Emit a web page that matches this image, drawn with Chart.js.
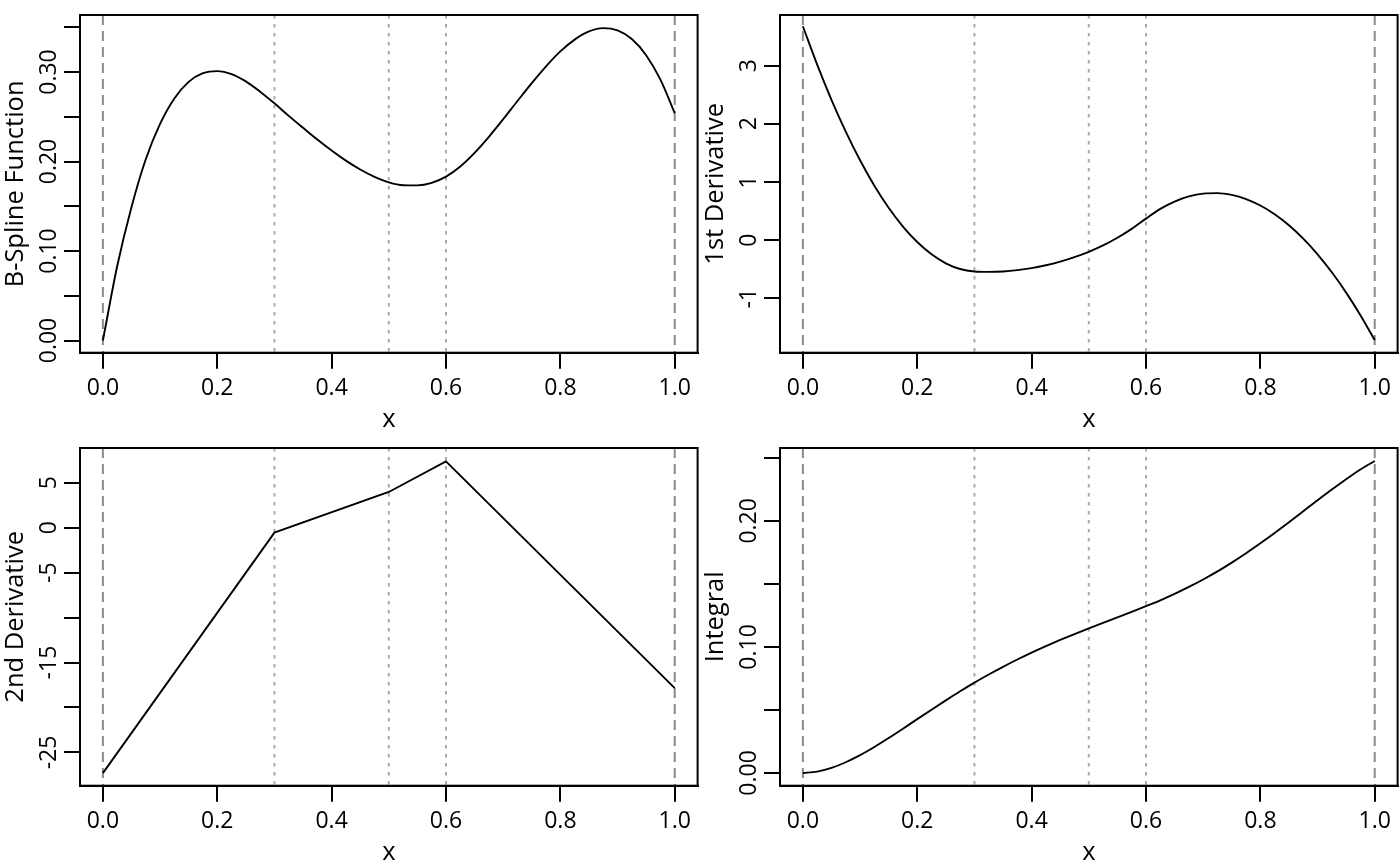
<!DOCTYPE html>
<html>
<head>
<meta charset="utf-8">
<script src="https://cdn.jsdelivr.net/npm/chart.js@4.4.1/dist/chart.umd.min.js"></script>
<style>
html,body{margin:0;padding:0;background:#fff;}
#wrap{position:relative;width:1400px;height:866px;overflow:hidden;background:#fff;}
canvas{position:absolute;}
</style>
</head>
<body>
<div id="wrap">
<canvas id="c1" width="700" height="433" style="left:0px;top:0px"></canvas>
<canvas id="c2" width="700" height="433" style="left:700px;top:0px"></canvas>
<canvas id="c3" width="700" height="433" style="left:0px;top:433px"></canvas>
<canvas id="c4" width="700" height="433" style="left:700px;top:433px"></canvas>
</div>
<script>
// ---------- data ----------
const boundaryKnots = [0, 1];
const internalKnots = [0.3, 0.5, 0.6];

const xTicks = [0, 0.2, 0.4, 0.6, 0.8, 1.0];
const xTickLabels = ['0.0', '0.2', '0.4', '0.6', '0.8', '1.0'];

// x positions at which the smooth curves were read
const xGrid = [0,0.025,0.05,0.075,0.1,0.125,0.15,0.175,0.2,0.225,0.25,0.275,0.3,0.325,0.35,0.375,0.4,0.425,0.45,0.475,0.5,
               0.525,0.55,0.575,0.6,0.625,0.65,0.675,0.7,0.725,0.75,0.775,0.8,0.825,0.85,0.875,0.9,0.925,0.95,0.975,1];

// B-spline function
const yBasis = [0,0.083,0.149,0.2025,0.242,0.2705,0.289,0.2987,0.301,0.2977,0.2895,0.278,0.265,0.2510,0.2377,0.2246,0.2123,0.2010,0.1911,0.1829,0.1767,
                0.1735,0.1733,0.1761,0.1831,0.1945,0.2097,0.2276,0.2472,0.2676,0.2876,0.3064,0.323,0.3362,0.3453,0.349,0.3465,0.3368,0.3188,0.2915,0.254];
const basisTicks = [0,0.05,0.1,0.15,0.2,0.25,0.3,0.35];
const basisTickLabels = ['0.00','','0.10','','0.20','','0.30',''];

// 1st derivative
const yDeriv1 = [3.677,3.016,2.412,1.864,1.372,0.936,0.557,0.234,-0.033,-0.244,-0.398,-0.496,-0.538,-0.545,-0.538,-0.516,-0.481,-0.432,-0.369,-0.291,-0.200,
                 -0.091,0.041,0.194,0.370,0.537,0.664,0.752,0.800,0.808,0.777,0.706,0.595,0.445,0.255,0.025,-0.244,-0.553,-0.902,-1.290,-1.718];
const deriv1Ticks = [-1,0,1,2,3];
const deriv1TickLabels = ['-1','0','1','2','3'];

// 2nd derivative (piecewise linear, read at the knots)
const xDeriv2 = [0,0.3,0.5,0.6,1];
const yDeriv2 = [-27.3,-0.55,3.97,7.37,-17.84];
const deriv2Ticks = [-25,-20,-15,-10,-5,0,5];
const deriv2TickLabels = ['-25','','-15','','-5','0','5'];

// Integral
const yIntegral = [0,0.0011,0.0040,0.0085,0.0141,0.0206,0.0277,0.0351,0.0427,0.0502,0.0576,0.0648,0.0717,0.0781,0.0842,0.0900,0.0955,0.1006,0.1055,0.1102,0.1147,
                   0.1191,0.1234,0.1278,0.1323,0.1370,0.1421,0.1476,0.1535,0.1599,0.1669,0.1743,0.1822,0.1904,0.1989,0.2076,0.2163,0.2248,0.2330,0.2407,0.2475];
const integralTicks = [0,0.05,0.1,0.15,0.2,0.25];
const integralTickLabels = ['0.00','','0.10','','0.20',''];

// ---------- drawing ----------
const FONT = '"Open Sans", "Noto Sans", sans-serif';
const TICK_FONT = '23px ' + FONT;
const TITLE_FONT = '25.5px ' + FONT;

function rStylePlugin(yTicks, yLabels, yTitle) {
  return {
    id: 'rstyle',
    beforeDatasetsDraw(chart) {
      const ctx = chart.ctx, a = chart.chartArea, xs = chart.scales.x;
      ctx.save();
      ctx.beginPath();
      ctx.rect(a.left, a.top, a.right - a.left, a.bottom - a.top);
      ctx.clip();
      ctx.lineWidth = 2;
      ctx.lineCap = 'butt';
      ctx.strokeStyle = '#8a8a8a';
      ctx.setLineDash([10, 6]);
      boundaryKnots.forEach(k => {
        const px = xs.getPixelForValue(k);
        ctx.beginPath(); ctx.moveTo(px, a.top); ctx.lineTo(px, a.bottom); ctx.stroke();
      });
      ctx.strokeStyle = '#ababab';
      ctx.setLineDash([3.5, 5.5]);
      internalKnots.forEach(k => {
        const px = xs.getPixelForValue(k);
        ctx.beginPath(); ctx.moveTo(px, a.top); ctx.lineTo(px, a.bottom); ctx.stroke();
      });
      ctx.restore();
    },
    afterDraw(chart) {
      const ctx = chart.ctx, a = chart.chartArea, xs = chart.scales.x, ys = chart.scales.y;
      ctx.save();
      ctx.strokeStyle = '#000';
      ctx.lineWidth = 2;
      ctx.setLineDash([]);
      ctx.strokeRect(a.left, a.top, a.right - a.left, a.bottom - a.top);
      ctx.fillStyle = '#000';
      ctx.font = TICK_FONT;
      ctx.textAlign = 'center';
      ctx.textBaseline = 'alphabetic';
      xTicks.forEach((v, i) => {
        if (!xTickLabels[i]) return;
        ctx.fillText(xTickLabels[i], xs.getPixelForValue(v), a.bottom + 42.5);
      });
      yTicks.forEach((v, i) => {
        if (!yLabels[i]) return;
        ctx.save();
        ctx.translate(a.left - 24, ys.getPixelForValue(v));
        ctx.rotate(-Math.PI / 2);
        ctx.fillText(yLabels[i], 0, 0);
        ctx.restore();
      });
      ctx.font = TITLE_FONT;
      ctx.fillText('x', (a.left + a.right) / 2, a.bottom + 74.5);
      ctx.save();
      ctx.translate(a.left - 57.3, (a.top + a.bottom) / 2);
      ctx.rotate(-Math.PI / 2);
      ctx.fillText(yTitle, 0, 0);
      ctx.restore();
      ctx.restore();
    }
  };
}

function makePanel(id, xs, ys, yMin, yMax, yTicks, yLabels, yTitle, smooth) {
  const pts = xs.map((x, i) => ({x: x, y: ys[i]}));
  const axisCommon = {
    type: 'linear',
    grid: {drawOnChartArea: false, drawTicks: true, tickLength: 16, tickWidth: 2, tickColor: '#000', color: '#000', lineWidth: 2},
    border: {display: true, color: '#000', width: 2},
    ticks: {display: false, autoSkip: false}
  };
  new Chart(document.getElementById(id), {
    type: 'line',
    data: {datasets: [{
      data: pts,
      borderColor: '#000',
      borderWidth: 1.9,
      pointRadius: 0,
      fill: false,
      tension: smooth ? 0.4 : 0,
      cubicInterpolationMode: smooth ? 'monotone' : 'default'
    }]},
    options: {
      responsive: false,
      animation: false,
      events: [],
      layout: {padding: {left: 64, top: 15, right: 2.4, bottom: 64.3}},
      plugins: {legend: {display: false}, tooltip: {enabled: false}, title: {display: false}},
      scales: {
        x: Object.assign({}, axisCommon, {
          position: 'bottom', min: -0.04, max: 1.04,
          afterBuildTicks: s => { s.ticks = xTicks.map(v => ({value: v})); },
          afterFit: s => { s.height = 16; }
        }),
        y: Object.assign({}, axisCommon, {
          position: 'left', min: yMin, max: yMax,
          afterBuildTicks: s => { s.ticks = yTicks.map(v => ({value: v})); },
          afterFit: s => { s.width = 16; }
        })
      }
    },
    plugins: [rStylePlugin(yTicks, yLabels, yTitle)]
  });
}

makePanel('c1', xGrid, yBasis, -0.0136, 0.3637, basisTicks, basisTickLabels, 'B-Spline Function', true);
makePanel('c2', xGrid, yDeriv1, -1.935, 3.87, deriv1Ticks, deriv1TickLabels, '1st Derivative', true);
makePanel('c3', xDeriv2, yDeriv2, -28.7, 8.86, deriv2Ticks, deriv2TickLabels, '2nd Derivative', false);
makePanel('c4', xGrid, yIntegral, -0.0101, 0.2578, integralTicks, integralTickLabels, 'Integral', true);
</script>
</body>
</html>
